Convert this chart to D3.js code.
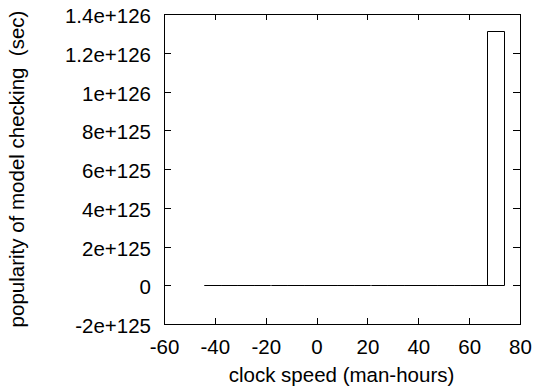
<!DOCTYPE html>
<html>
<head>
<meta charset="utf-8">
<script src="https://cdn.jsdelivr.net/npm/d3@7"></script>
<style>
body { margin: 0; background: #fff; }
svg { display: block; }
text { font-family: "Liberation Sans", Arial, Helvetica, sans-serif; fill: #000; }
</style>
</head>
<body>
<svg width="534" height="389"></svg>
<script>
// bins (centre of each box) and their heights
var binCenters = [-41.0, -34.5, -27.9, -21.4, -14.8, -8.3, -1.7, 4.8, 11.4,
                  17.9, 24.5, 31.0, 37.6, 44.1, 50.7, 57.2, 63.8, 70.4];
var binValues = [0, 0, 0, 0, 0, 0, 0, 0, 0,
                 0, 0, 0, 0, 0, 0, 0, 0, 1.31e126];
var binWidth = 6.55;

var xTicks = [-60, -40, -20, 0, 20, 40, 60, 80];
var yTicks = [-2e125, 0, 2e125, 4e125, 6e125, 8e125, 1e126, 1.2e126, 1.4e126];
var yTickLabels = ["-2e+125", "0", "2e+125", "4e+125", "6e+125", "8e+125",
                   "1e+126", "1.2e+126", "1.4e+126"];

var svg = d3.select("svg");
var plotLeft = 164, plotRight = 520, plotTop = 14, plotBottom = 324;
var fontSize = 20.5;

var x = d3.scaleLinear().domain([-60, 80]).range([plotLeft, plotRight]);
var y = d3.scaleLinear().domain([-2e125, 1.4e126]).range([plotBottom, plotTop]);

function px(v) { return Math.round(v) + 0.5; }

// boxes, drawn as open paths so zero height ones still show a line
svg.append("g").selectAll("path")
    .data(binCenters)
    .enter().append("path")
    .attr("d", function (c, i) {
        var x0 = px(x(c - binWidth / 2)), x1 = px(x(c + binWidth / 2));
        var y0 = px(y(0)), y1 = px(y(binValues[i]));
        return "M" + x0 + "," + y0 + "V" + y1 + "H" + x1 + "V" + y0 + "Z";
    })
    .attr("fill", "none")
    .attr("stroke", "#000")
    .attr("stroke-width", 1);

// axes, ticks pointing inward, mirrored on top and right
var ax = svg.append("g");

ax.append("g").attr("transform", "translate(0," + plotBottom + ")")
    .call(d3.axisBottom(x).tickValues(xTicks).tickSize(-6).tickPadding(0)
        .tickFormat(function (d) { return String(d); }))
    .call(function (g) {
        g.select(".domain").remove();
        g.selectAll("text").attr("y", 30).attr("dy", 0);
    });
ax.append("g").attr("transform", "translate(0," + plotTop + ")")
    .call(d3.axisTop(x).tickValues(xTicks).tickSize(-6).tickFormat(""))
    .call(function (g) { g.select(".domain").remove(); });

ax.append("g").attr("transform", "translate(" + plotLeft + ",0)")
    .call(d3.axisLeft(y).tickValues(yTicks).tickSize(-7).tickPadding(0)
        .tickFormat(function (d, i) { return yTickLabels[i]; }))
    .call(function (g) {
        g.select(".domain").remove();
        g.selectAll("text").attr("x", -13).attr("dy", "0.42em");
    });
ax.append("g").attr("transform", "translate(" + plotRight + ",0)")
    .call(d3.axisRight(y).tickValues(yTicks).tickSize(-7).tickFormat(""))
    .call(function (g) { g.select(".domain").remove(); });

ax.selectAll(".tick line").attr("stroke", "#000").attr("shape-rendering", "crispEdges");
ax.selectAll("text")
    .attr("font-family", "Liberation Sans, Arial, sans-serif")
    .attr("font-size", fontSize)
    .attr("fill", "#000");

// frame
svg.append("rect")
    .attr("x", plotLeft).attr("y", plotTop)
    .attr("width", plotRight - plotLeft).attr("height", plotBottom - plotTop)
    .attr("fill", "none").attr("stroke", "#000")
    .attr("shape-rendering", "crispEdges");

// axis titles
svg.append("text")
    .attr("x", (plotLeft + plotRight) / 2 - 0.5).attr("y", 382)
    .attr("text-anchor", "middle").attr("font-size", fontSize)
    .text("clock speed (man-hours)");

svg.append("text")
    .attr("transform", "translate(24," + (plotTop + plotBottom) / 2 + ") rotate(-90)")
    .attr("text-anchor", "middle").attr("font-size", fontSize)
    .style("white-space", "pre")
    .text("popularity of model checking  (sec)");
</script>
</body>
</html>
